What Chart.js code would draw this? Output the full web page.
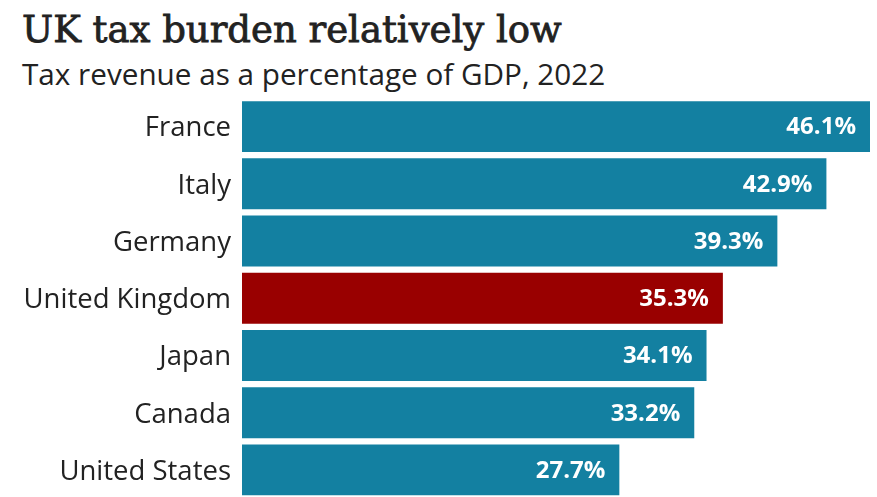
<!DOCTYPE html>
<html>
<head>
<meta charset="utf-8">
<script src="https://cdn.jsdelivr.net/npm/chart.js@4"></script>
<style>
  html, body { margin: 0; padding: 0; background: #fff; overflow: hidden; width: 877px; height: 497px; }
  #title { position: absolute; left: 22px; top: 2px; line-height: 56px; font-family: "DejaVu Serif", serif; font-weight: normal; -webkit-text-stroke: 0.8px #222; font-size: 37px; color: #222; white-space: nowrap; }
  #subtitle { position: absolute; left: 22px; top: 54px; line-height: 40px; font-family: "Open Sans", sans-serif; font-size: 29.7px; color: #222; white-space: nowrap; }
  #wrap { position: absolute; left: 0; top: 0; width: 877px; height: 526px; }
</style>
</head>
<body>
<div id="title">UK tax burden relatively low</div>
<div id="subtitle">Tax revenue as a percentage of GDP, 2022</div>
<div id="wrap"><canvas id="c" width="877" height="526"></canvas></div>
<script>
const countries = ["France", "Italy", "Germany", "United Kingdom", "Japan", "Canada", "United States"];
const taxShare = [46.1, 42.9, 39.3, 35.3, 34.1, 33.2, 27.7];
const valueLabels = ["46.1%", "42.9%", "39.3%", "35.3%", "34.1%", "33.2%", "27.7%"];
const highlight = "United Kingdom";

const TEAL = "#1380A1", RED = "#990000";

const valueLabelPlugin = {
  id: "valueLabels",
  afterDatasetsDraw(chart) {
    const ctx = chart.ctx;
    const meta = chart.getDatasetMeta(0);
    ctx.save();
    ctx.fillStyle = "#ffffff";
    ctx.font = "bold 24px 'Open Sans', sans-serif";
    ctx.textAlign = "right";
    ctx.textBaseline = "middle";
    meta.data.forEach((bar, i) => {
      ctx.fillText(valueLabels[i], bar.x - 14, bar.y + 1);
    });
    ctx.restore();
  }
};

new Chart(document.getElementById("c"), {
  type: "bar",
  data: {
    labels: countries,
    datasets: [{
      data: taxShare,
      backgroundColor: countries.map(c => c === highlight ? RED : TEAL),
      borderWidth: 0,
      barPercentage: 0.89,
      categoryPercentage: 1.0
    }]
  },
  options: {
    indexAxis: "y",
    responsive: false,
    animation: false,
    devicePixelRatio: 1,
    layout: { padding: { top: 98, right: 7, bottom: 0, left: 0 } },
    plugins: { legend: { display: false }, tooltip: { enabled: false }, title: { display: false } },
    scales: {
      x: { display: false, min: 0, max: 46.1 },
      y: {
        grid: { display: false, drawTicks: false },
        border: { display: false },
        ticks: { color: "#222", font: { family: "'Open Sans', sans-serif", size: 27.5 }, padding: 11, labelOffset: 2 },
        afterFit(axis) { axis.width = 242; }
      }
    }
  },
  plugins: [valueLabelPlugin]
});
</script>
</body>
</html>
